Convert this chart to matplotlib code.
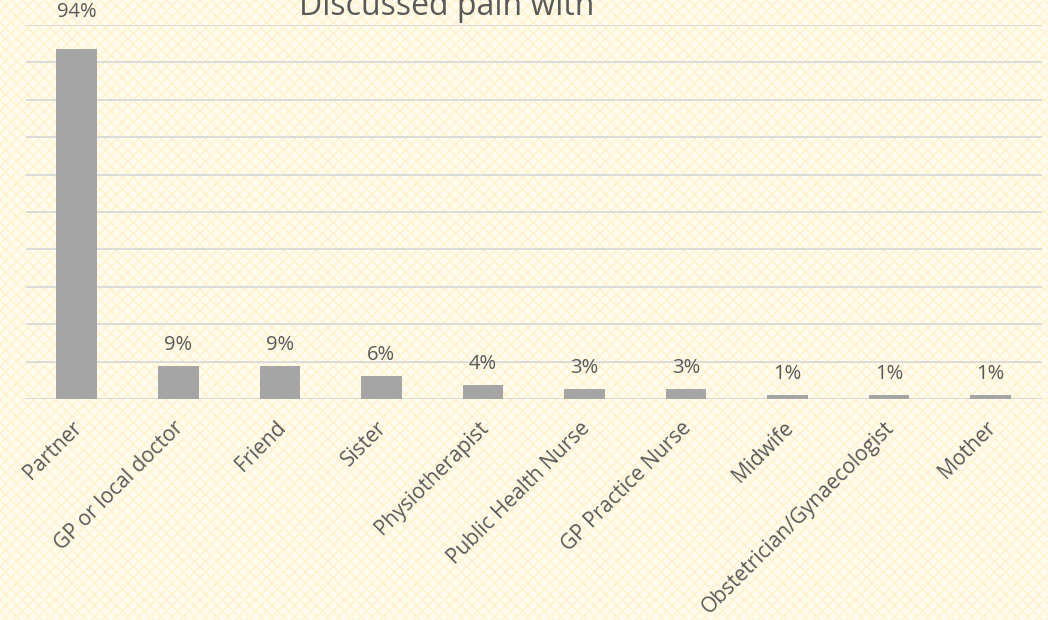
import matplotlib
matplotlib.use("Agg")
import matplotlib.pyplot as plt
import matplotlib.transforms as mtrans
from matplotlib.patches import Rectangle

categories = ["Partner", "GP or local doctor", "Friend", "Sister", "Physiotherapist",
              "Public Health Nurse", "GP Practice Nurse", "Midwife",
              "Obstetrician/Gynaecologist", "Mother"]
values = [93.6, 8.8, 8.8, 6.1, 3.7, 2.7, 2.7, 1.1, 1.1, 1.1]
labels = ["94%", "9%", "9%", "6%", "4%", "3%", "3%", "1%", "1%", "1%"]
title = "Discussed pain with"

plt.rcParams['font.family'] = ['Open Sans', 'DejaVu Sans']
text_color = '#595959'

fig = plt.figure(figsize=(10.48, 6.20), dpi=100)
fig.patch.set_facecolor('#FFFCEE')
bg = Rectangle((0, 0), 1, 1, transform=fig.transFigure, facecolor='#FFFCEE',
               edgecolor='#FFF1CC', hatch='xxx', linewidth=0, zorder=-10)
fig.patches.append(bg)

ax = fig.add_axes([0.0248, 0.356, 0.969, 0.604])
ax.set_facecolor('none')
x = list(range(len(categories)))
ax.bar(x, values, width=0.4, color='#A5A5A5', zorder=3)
ax.set_xlim(-0.5, len(categories) - 0.5)
ax.set_ylim(0, 100)
ax.set_yticks(range(0, 101, 10))
ax.yaxis.grid(True, color='#D9D9D9', linewidth=1.3, zorder=0)
ax.tick_params(axis='y', left=False, labelleft=False)
ax.tick_params(axis='x', length=0, pad=13)
for s in ax.spines.values():
    s.set_visible(False)
ax.axhline(0, color='#D9D9D9', linewidth=1.3, zorder=2)

ax.set_xticks(x)
ax.set_xticklabels(categories, rotation=45, ha='right', rotation_mode='anchor',
                   fontsize=15, color=text_color)
shift = mtrans.ScaledTranslation(-5 / 100, 0, fig.dpi_scale_trans)
for t in ax.get_xticklabels():
    t.set_transform(t.get_transform() + shift)

for i, (xi, v, lab) in enumerate(zip(x, values, labels)):
    off = 19 if i == 0 else 8
    ax.annotate(lab, (xi, v), xytext=(0, off), textcoords='offset points',
                ha='center', va='bottom', fontsize=14.5, color=text_color, zorder=4)

fig.text(447 / 1048, 1 - 15 / 620, title, ha='center', va='baseline',
         fontsize=23, color=text_color)

fig.savefig("out.png", dpi=100, facecolor=fig.get_facecolor())
